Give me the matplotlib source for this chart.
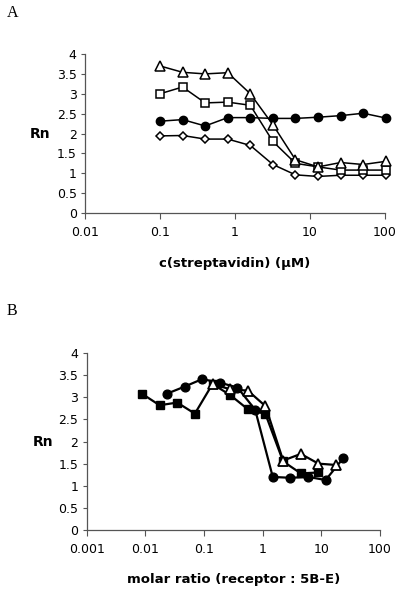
import matplotlib
matplotlib.use("Agg")
from matplotlib import pyplot as plt
from matplotlib.ticker import FixedLocator, FixedFormatter, NullLocator

# panel A: c(streptavidin) in uM
conc = [0.1, 0.2, 0.4, 0.8, 1.6, 3.2, 6.4, 12.8, 25.6, 51.2, 102.4]
a_circle = [2.31, 2.35, 2.19, 2.40, 2.40, 2.38, 2.38, 2.41, 2.45, 2.51, 2.39]
a_diamond = [1.94, 1.95, 1.86, 1.86, 1.70, 1.22, 0.96, 0.92, 0.95, 0.95, 0.95]
a_square = [3.00, 3.17, 2.77, 2.79, 2.71, 1.80, 1.25, 1.16, 1.08, 1.08, 1.08]
a_triangle = [3.70, 3.54, 3.50, 3.53, 3.00, 2.22, 1.34, 1.16, 1.27, 1.22, 1.30]

# panel B: molar ratio (receptor : 5B-E)
b_sq_x = [0.00875, 0.0175, 0.035, 0.07, 0.14, 0.28, 0.56, 1.12, 2.24, 4.48, 8.96]
b_sq_y = [3.08, 2.82, 2.88, 2.63, 3.30, 3.05, 2.73, 2.62, 1.55, 1.28, 1.30]
b_ci_x = [0.0233, 0.0466, 0.093, 0.187, 0.373, 0.746, 1.49, 2.98, 5.97, 11.9, 23.9]
b_ci_y = [3.08, 3.24, 3.41, 3.33, 3.22, 2.72, 1.20, 1.18, 1.20, 1.13, 1.63]
b_tr_x = [0.14, 0.28, 0.56, 1.12, 2.24, 4.48, 8.96, 17.9]
b_tr_y = [3.30, 3.18, 3.15, 2.80, 1.57, 1.72, 1.50, 1.47]

y_ticks = [0, 0.5, 1, 1.5, 2, 2.5, 3, 3.5, 4]
y_labels = ["0", "0.5", "1", "1.5", "2", "2.5", "3", "3.5", "4"]
a_xticks = [0.01, 0.1, 1, 10, 100]
a_xlabels = ["0.01", "0.1", "1", "10", "100"]
b_xticks = [0.001, 0.01, 0.1, 1, 10, 100]
b_xlabels = ["0.001", "0.01", "0.1", "1", "10", "100"]

plt.rcParams["font.family"] = ["DejaVu Sans"]

fig = plt.figure(figsize=[4.0, 5.93], dpi=100)
ax1 = fig.add_axes([0.2125, 0.6408, 0.75, 0.2681])
ax2 = fig.add_axes([0.2167, 0.1062, 0.733, 0.2985])


def style_axis(ax, xticks, xlabels, xlim):
    ax.set_xscale("log")
    ax.set_xlim(xlim)
    ax.set_ylim(0, 4)
    ax.xaxis.set_major_locator(FixedLocator(xticks))
    ax.xaxis.set_major_formatter(FixedFormatter(xlabels))
    ax.xaxis.set_minor_locator(NullLocator())
    ax.yaxis.set_major_locator(FixedLocator(y_ticks))
    ax.yaxis.set_major_formatter(FixedFormatter(y_labels))
    for s in ["top", "right"]:
        ax.spines[s].set_visible(False)
    for s in ["left", "bottom"]:
        ax.spines[s].set_color("#555555")
        ax.spines[s].set_linewidth(0.9)
    ax.tick_params(axis="x", direction="out", length=4, width=0.8,
                   color="#555555", labelsize=9, pad=5)
    ax.tick_params(axis="y", direction="out", length=3, width=0.8,
                   color="#555555", labelsize=9, pad=3)
    ax.text(-0.15, 0.5, "Rn", transform=ax.transAxes, ha="center",
            va="center", fontsize=10, fontweight="bold")


style_axis(ax1, a_xticks, a_xlabels, (0.01, 100))
lw = 1.1
ax1.plot(conc, a_circle, color="black", lw=lw, marker="o", ms=6,
         mfc="black", mec="black", clip_on=False)
ax1.plot(conc, a_diamond, color="black", lw=lw, marker="D", ms=4.2,
         mfc="white", mec="black", mew=1.1, clip_on=False)
ax1.plot(conc, a_square, color="black", lw=lw, marker="s", ms=6,
         mfc="white", mec="black", mew=1.1, clip_on=False)
ax1.plot(conc, a_triangle, color="black", lw=lw, marker="^", ms=7.2,
         mfc="white", mec="black", mew=1.1, clip_on=False)
ax1.text(0.5, -0.315, "c(streptavidin) (\u03bcM)", transform=ax1.transAxes,
         ha="center", va="center", fontsize=9.5, fontweight="bold")

style_axis(ax2, b_xticks, b_xlabels, (0.001, 100))
lw = 1.6
ax2.plot(b_ci_x, b_ci_y, color="black", lw=lw, marker="o", ms=6.3,
         mfc="black", mec="black", clip_on=False)
ax2.plot(b_sq_x, b_sq_y, color="black", lw=lw, marker="s", ms=6.3,
         mfc="black", mec="black", clip_on=False)
ax2.plot(b_tr_x, b_tr_y, color="black", lw=lw, marker="^", ms=6.5,
         mfc="white", mec="black", mew=1.3, clip_on=False)
ax2.text(0.5, -0.282, "molar ratio (receptor : 5B-E)", transform=ax2.transAxes,
         ha="center", va="center", fontsize=9.5, fontweight="bold")

fig.text(7 / 400, 1 - 17 / 593, "A", ha="left", va="baseline",
         fontsize=11.5, family="Liberation Serif")
fig.text(7 / 400, 1 - 315 / 593, "B", ha="left", va="baseline",
         fontsize=11.5, family="Liberation Serif")

fig.savefig("out.png", dpi=100)
